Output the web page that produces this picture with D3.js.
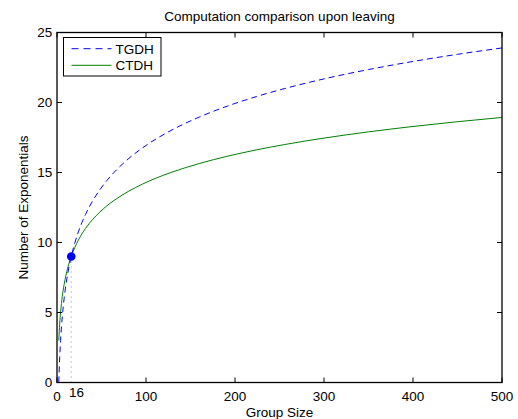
<!DOCTYPE html>
<html><head><meta charset="utf-8">
<script src="https://cdn.jsdelivr.net/npm/d3@7"></script>
<style>body{margin:0;background:#fff;} text{font-family:"Liberation Sans",Arial,sans-serif;}</style>
</head><body><svg id="c" width="518" height="419"></svg>
<script>
const groupSize = [2,3,4,5,6,8,10,12,14,16,20,24,28,32,40,48,56,64,80,96,112,128,160,192,224,256,300,350,400,450,500];
const tgdh = [0,1.755,3,3.966,4.755,6,6.966,7.755,8.422,9,9.966,10.755,11.422,12,12.966,13.755,14.422,15,15.966,16.755,17.422,18,18.966,19.755,20.422,21,21.686,22.354,22.932,23.441,23.897];
const ctdh = [3,4.17,5,5.644,6.17,7,7.644,8.17,8.615,9,9.644,10.17,10.615,11,11.644,12.17,12.615,13,13.644,14.17,14.615,15,15.644,16.17,16.615,17,17.458,17.902,18.288,18.628,18.932];
const xTicks = [0,100,200,300,400,500];
const yTicks = [0,5,10,15,20,25];
const marker = {x:16, y:9};
const seriesNames = ["TGDH","CTDH"];

const FS = 13.5;
const svg = d3.select("#c");
const L=57, R=502, T=32.5, B=382.5;
const x = d3.scaleLinear().domain([0,500]).range([L,R]);
const y = d3.scaleLinear().domain([0,25]).range([B,T]);

// title & labels
svg.append("text").attr("x",(L+R)/2).attr("y",20.5).attr("text-anchor","middle").attr("font-size",FS).text("Computation comparison upon leaving");
svg.append("text").attr("x",(L+R)/2).attr("y",416.5).attr("text-anchor","middle").attr("font-size",FS).text("Group Size");
svg.append("text").attr("transform",`translate(27.5,${(T+B)/2}) rotate(-90)`).attr("text-anchor","middle").attr("font-size",FS).text("Number of Exponentials");

svg.append("clipPath").attr("id","pc").append("rect").attr("x",L).attr("y",T).attr("width",R-L).attr("height",B-T);
const g = svg.append("g").attr("clip-path","url(#pc)");

const line = (vals)=>d3.line().x((d,i)=>x(groupSize[i])).y(d=>y(d)).curve(d3.curveMonotoneX)(vals);

// dotted guide
g.append("line").attr("x1",x(marker.x)).attr("x2",x(marker.x)).attr("y1",y(marker.y)).attr("y2",y(0))
 .attr("stroke","#6666ff").attr("stroke-opacity",0.8).attr("stroke-dasharray","1,4").attr("stroke-width",1);

g.append("path").attr("d",line(ctdh)).attr("fill","none").attr("stroke","#008000").attr("stroke-width",1);
g.append("path").attr("d",line(tgdh)).attr("fill","none").attr("stroke","#0000ff").attr("stroke-width",1).attr("stroke-dasharray","6,4");

svg.append("circle").attr("cx",x(marker.x)).attr("cy",y(marker.y)).attr("r",4.3).attr("fill","#0000ff");

// axes box with inward ticks
const ax = svg.append("g");
ax.append("rect").attr("x",L).attr("y",T).attr("width",R-L).attr("height",B-T).attr("fill","none").attr("stroke","#000").attr("stroke-width",1.3);
xTicks.forEach(t=>{
  ax.append("line").attr("x1",x(t)).attr("x2",x(t)).attr("y1",B).attr("y2",B-5).attr("stroke","#000");
  ax.append("line").attr("x1",x(t)).attr("x2",x(t)).attr("y1",T).attr("y2",T+5).attr("stroke","#000");
  ax.append("text").attr("x",x(t)).attr("y",400.5).attr("text-anchor","middle").attr("font-size",FS).text(t);
});
ax.append("text").attr("x",x(marker.x)+5.3).attr("y",397).attr("text-anchor","middle").attr("font-size",FS).text(marker.x);
yTicks.forEach(t=>{
  ax.append("line").attr("x1",L).attr("x2",L+5).attr("y1",y(t)).attr("y2",y(t)).attr("stroke","#000");
  ax.append("line").attr("x1",R).attr("x2",R-5).attr("y1",y(t)).attr("y2",y(t)).attr("stroke","#000");
  ax.append("text").attr("x",L-4.7).attr("y",y(t)+4.8).attr("text-anchor","end").attr("font-size",FS).text(t);
});

// legend
const lg = svg.append("g");
lg.append("rect").attr("x",63.5).attr("y",37.5).attr("width",97.5).attr("height",38.5).attr("fill","#fff").attr("stroke","#000").attr("stroke-width",1);
const styles=[{c:"#0000ff",d:"7,5"},{c:"#008000",d:null}];
seriesNames.forEach((n,i)=>{
  const yy = 48.7 + i*16.6;
  const l = lg.append("line").attr("x1",71.5).attr("x2",111.5).attr("y1",yy).attr("y2",yy).attr("stroke",styles[i].c).attr("stroke-width",1);
  if(styles[i].d) l.attr("stroke-dasharray",styles[i].d);
  lg.append("text").attr("x",115.5).attr("y",yy+4.8).attr("font-size",FS).text(n);
});
</script></body></html>
